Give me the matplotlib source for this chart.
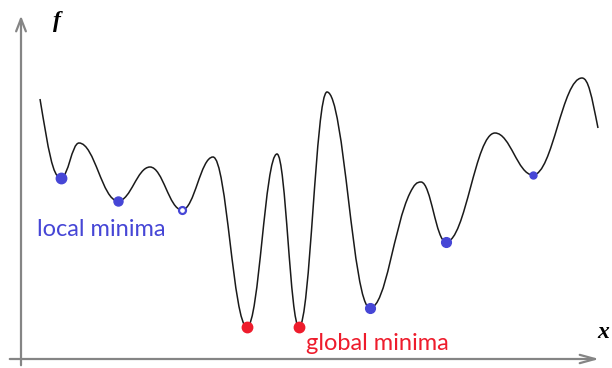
import matplotlib; matplotlib.use("Agg")
import matplotlib.pyplot as plt
from matplotlib.path import Path
from matplotlib.patches import PathPatch

# key points of the sketched curve (x, y in picture units, y grows downward)
px = [40, 61, 79, 118, 150, 182, 213, 247, 277, 299, 327, 370, 410, 421, 446, 495, 533, 582, 598]
py = [99, 178, 143, 201, 167, 210, 157, 327, 154, 327, 92, 308, 193, 182, 242, 133, 175, 78, 128]
slope = [6, 0, 0, 0, 0, 0, 0, 0, 0, 0, 0, 0, -2, 0, 0, 0, 0, 0, 5]

# minima to mark
local_idx = [1, 3, 5, 11, 14, 16]
local_size = [7.5, 6.5, 5, 7, 7, 5]
local_hollow = [False, False, True, False, False, False]
global_idx = [7, 9]

BLUE = "#4646d6"; RED = "#ee1c2c"; AXC = "#858585"

fig = plt.figure(figsize=(6.12, 3.68), dpi=100)
ax = fig.add_axes([0, 0, 1, 1])
ax.set_xlim(0, 612); ax.set_ylim(368, 0); ax.axis("off")

# axes arrows
ax.annotate("", xy=(21, 13), xytext=(21, 368),
            arrowprops=dict(arrowstyle="->,head_length=0.9,head_width=0.35", color=AXC, lw=1.6))
ax.annotate("", xy=(602, 359), xytext=(7, 359),
            arrowprops=dict(arrowstyle="->,head_length=1.1,head_width=0.3", color=AXC, lw=1.6))

# smooth curve through the key points using cubic bezier segments
fr = 0.4
verts = [(px[0], py[0])]; codes = [Path.MOVETO]
for i in range(len(px) - 1):
    h = (px[i + 1] - px[i]) * fr
    verts += [(px[i] + h, py[i] + slope[i] * h),
              (px[i + 1] - h, py[i + 1] - slope[i + 1] * h),
              (px[i + 1], py[i + 1])]
    codes += [Path.CURVE4] * 3
ax.add_patch(PathPatch(Path(verts, codes), fc="none", ec="#1a1a1a", lw=1.1, zorder=2))

for i, s, hol in zip(local_idx, local_size, local_hollow):
    ax.plot(px[i], py[i], "o", ms=s, color=BLUE, mec=BLUE, mfc="white" if hol else BLUE,
            mew=1.6 if hol else 1, zorder=3)
for i in global_idx:
    ax.plot(px[i], py[i], "o", ms=7.5, color=RED, mec=RED, zorder=3)

ax.text(37, 230, "local minima", color=BLUE, fontsize=17, family="Lato", va="center", ha="left")
ax.text(306, 344, "global minima", color=RED, fontsize=17, family="Lato", va="center", ha="left")
ax.text(57, 22, "f", fontsize=17, family="Liberation Serif", style="italic", weight="bold", ha="center", va="center")
ax.text(603, 333, "x", fontsize=17, family="Liberation Serif", style="italic", weight="bold", ha="center", va="center")

fig.savefig("out.png", dpi=100)
